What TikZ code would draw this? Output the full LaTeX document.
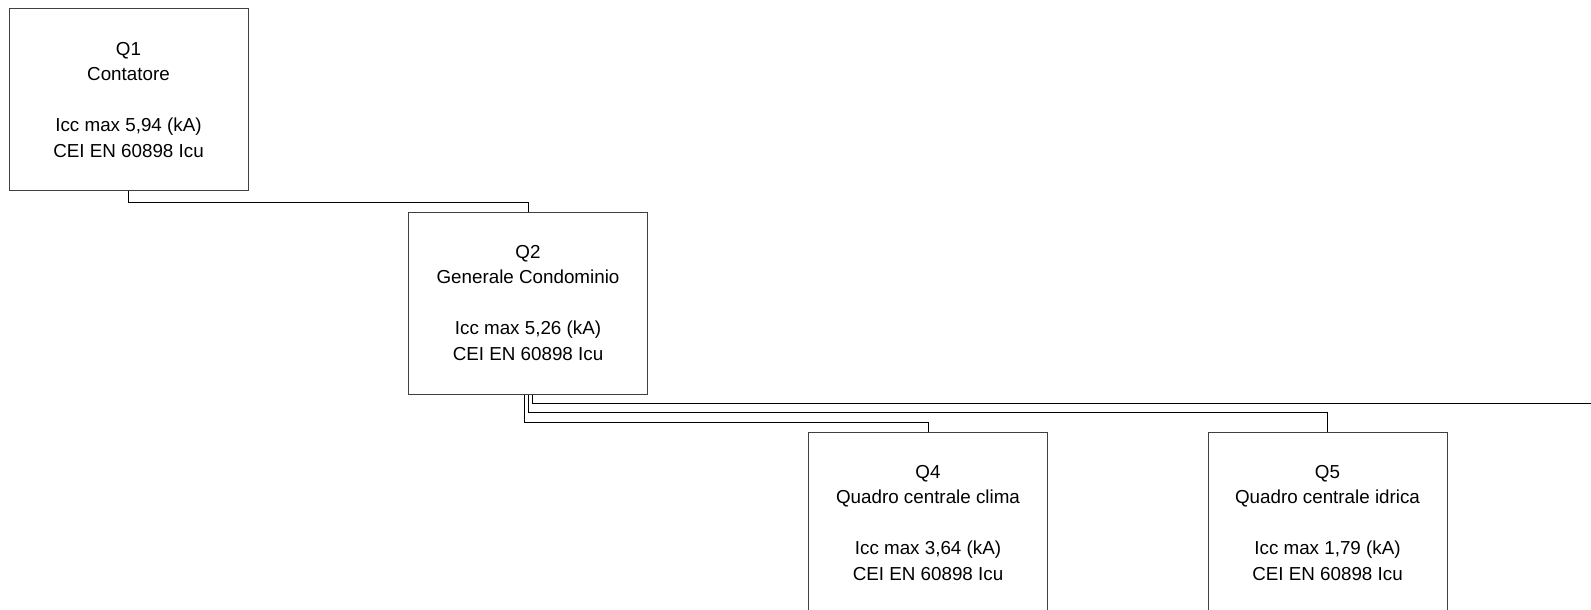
\documentclass[tikz,border=0pt]{standalone}
\usepackage{fontspec}
\setmainfont{Liberation Sans}
\usetikzlibrary{calc}
\tikzset{
  every picture/.style={line width=0.5pt},
  quadro/.style={draw=black!75, rectangle, minimum width=119.5pt, minimum height=91pt,
                 align=center, inner sep=0pt, font=\fontsize{9.4}{12.75}\selectfont},
  feeder/.style={draw=black, line width=0.5pt},
}

\begin{document}
\begin{tikzpicture}[x=0.5pt, y=-0.5pt]
  \clip (0,0) rectangle (1591,610);
  % quadri
  \node[quadro] (q1) at (128.5,100) {Q1\\Contatore\\[12.75pt]Icc max 5,94 (kA)\\CEI EN 60898 Icu};
  \node[quadro] (q2) at (528,303) {Q2\\Generale Condominio\\[12.75pt]Icc max 5,26 (kA)\\CEI EN 60898 Icu};
  \node[quadro] (q4) at (928,523) {Q4\\Quadro centrale clima\\[12.75pt]Icc max 3,64 (kA)\\CEI EN 60898 Icu};
  \node[quadro] (q5) at (1327.5,523) {Q5\\Quadro centrale idrica\\[12.75pt]Icc max 1,79 (kA)\\CEI EN 60898 Icu};
  \coordinate (out) at (1591,403);
  % linee
  \draw[feeder] (q1.south) -- ++(0,11) -| (q2.north);
  \draw[feeder] ($(q2.south)+(4,0)$) |- (out);
  \draw[feeder] (q2.south) -- ++(0,18) -| (q5.north);
  \draw[feeder] ($(q2.south)+(-4,0)$) -- ++(0,28) -| (q4.north);
\end{tikzpicture}
\end{document}
